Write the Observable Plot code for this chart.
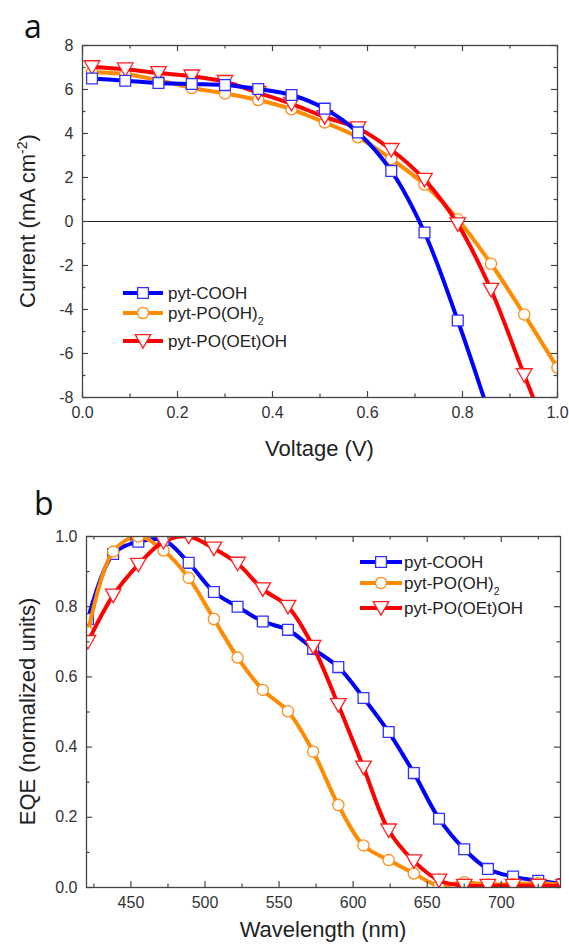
<!DOCTYPE html>
<html>
<head>
<meta charset="utf-8">
<script src="https://cdn.jsdelivr.net/npm/d3@7"></script>
<script src="https://cdn.jsdelivr.net/npm/@observablehq/plot@0.6"></script>
<style>
  body { margin: 0; background: #fff; }
  #chart { width: 569px; }
  #chart svg { display: block; }
</style>
</head>
<body>
<div id="chart"></div>
<script>
// ---------- Panel a: J–V curves ----------
const voltage = [0.02, 0.09, 0.16, 0.23, 0.30, 0.37, 0.44, 0.51, 0.58, 0.65, 0.72, 0.79, 0.86, 0.93, 1.00];
const currentCOOH = [6.50, 6.40, 6.30, 6.25, 6.20, 6.02, 5.75, 5.13, 4.05, 2.30, -0.50, -4.50, -9.00];
const currentPO = [6.80, 6.70, 6.42, 6.07, 5.82, 5.52, 5.10, 4.50, 3.83, 2.84, 1.68, 0.10, -1.92, -4.23, -6.65];
const currentOEt = [7.02, 6.92, 6.75, 6.60, 6.35, 5.85, 5.35, 4.75, 4.24, 3.26, 1.90, -0.12, -3.10, -6.98, -10.8];

// ---------- Panel b: EQE spectra ----------
const wavelength = [421, 438, 455, 472, 489, 506, 522, 539, 556, 573, 590, 607, 624, 641, 658, 675, 691, 708, 725, 742];
const eqeCOOH = [0.765, 0.950, 0.985, 0.990, 0.925, 0.842, 0.800, 0.758, 0.734, 0.680, 0.628, 0.540, 0.443, 0.326, 0.196, 0.109, 0.053, 0.031, 0.019, 0.010];
const eqePO = [0.727, 0.957, 1.000, 0.960, 0.882, 0.765, 0.655, 0.563, 0.502, 0.387, 0.235, 0.120, 0.078, 0.040, 0.005, 0.015, 0.008, 0.010, 0.012, 0.008];
const eqeOEt = [0.700, 0.832, 0.920, 0.985, 1.000, 0.966, 0.923, 0.850, 0.800, 0.686, 0.520, 0.342, 0.163, 0.075, 0.020, 0.005, 0.005, 0.005, 0.005, 0.005];

// ---------- Series names & ticks ----------
const seriesNames = ["pyt-COOH", "pyt-PO(OH)", "pyt-PO(OEt)OH"];
const seriesSubs = ["", "2", ""];
const xTicksA = [0, 0.2, 0.4, 0.6, 0.8, 1.0];
const xMinorA = [0.1, 0.3, 0.5, 0.7, 0.9];
const yTicksA = [-8, -6, -4, -2, 0, 2, 4, 6, 8];
const yMinorA = [-7, -5, -3, -1, 1, 3, 5, 7];
const xTicksB = [450, 500, 550, 600, 650, 700];
const xMinorB = [425, 475, 525, 575, 625, 675, 725];
const yTicksB = [0, 0.2, 0.4, 0.6, 0.8, 1.0];
const yMinorB = [0.1, 0.3, 0.5, 0.7, 0.9];

const FONT = "Arial, 'Liberation Sans', sans-serif";
const COLORS = ["#0000ff", "#ff8c00", "#ff0000"];
const MARKER_STROKE = ["#3030ff", "#ff8c1a", "#ff2020"];

const triangleDown = {
  draw(ctx, size) {
    const s = Math.sqrt(size / Math.PI);
    ctx.moveTo(-1.3 * s, -1.05 * s);
    ctx.lineTo(1.3 * s, -1.05 * s);
    ctx.lineTo(0, 1.2 * s);
    ctx.closePath();
  }
};
const SYMBOLS = [d3.symbolSquare, d3.symbolCircle, triangleDown];
const RADII = [6.1, 5.6, 6.0];

function toRows(xs, ys) {
  return ys.map((y, i) => ({x: xs[i], y}));
}

function seriesMarks(rows, k) {
  return [
    Plot.line(rows, {x: "x", y: "y", stroke: COLORS[k], strokeWidth: 4, curve: "catmull-rom", clip: true}),
    Plot.dot(rows, {x: "x", y: "y", symbol: SYMBOLS[k], r: RADII[k], fill: "white", stroke: MARKER_STROKE[k], strokeWidth: 1.3, clip: true})
  ];
}

function inwardTicks(xMajor, xMinor, yMajor, yMinor, innerW, innerH) {
  const st = {stroke: "#444", strokeWidth: 1.2};
  const maj = 6, min = 3.5;
  return [
    Plot.tickX(xMajor, {x: d => d, insetTop: innerH - maj, ...st}),
    Plot.tickX(xMinor, {x: d => d, insetTop: innerH - min, ...st}),
    Plot.tickX(xMajor, {x: d => d, insetBottom: innerH - maj, ...st}),
    Plot.tickX(xMinor, {x: d => d, insetBottom: innerH - min, ...st}),
    Plot.tickY(yMajor, {y: d => d, insetRight: innerW - maj, ...st}),
    Plot.tickY(yMinor, {y: d => d, insetRight: innerW - min, ...st}),
    Plot.tickY(yMajor, {y: d => d, insetLeft: innerW - maj, ...st}),
    Plot.tickY(yMinor, {y: d => d, insetLeft: innerW - min, ...st})
  ];
}

// Legend drawn inside the frame (offsets in px relative to frame top-left)
function legendMark({x, dys, len, gap, fontSize}) {
  return (index, scales, values, dims) => {
    const g = d3.create("svg:g").attr("font-family", FONT).attr("font-size", fontSize).attr("text-anchor", "start");
    seriesNames.forEach((name, k) => {
      const cy = dims.marginTop + dys[k];
      const x0 = dims.marginLeft + x;
      g.append("line").attr("x1", x0).attr("x2", x0 + len).attr("y1", cy).attr("y2", cy)
        .attr("stroke", COLORS[k]).attr("stroke-width", 4);
      g.append("path").attr("d", d3.symbol(SYMBOLS[k], Math.PI * RADII[k] * RADII[k])())
        .attr("transform", `translate(${x0 + len / 2},${cy})`)
        .attr("fill", "white").attr("stroke", MARKER_STROKE[k]).attr("stroke-width", 1.3);
      const t = g.append("text").attr("x", x0 + len + gap).attr("y", cy).attr("dy", "0.36em")
        .attr("text-anchor", "start").attr("fill", "#222");
      t.append("tspan").text(name);
      if (seriesSubs[k]) t.append("tspan").attr("font-size", fontSize * 0.62).attr("dy", 6).text(seriesSubs[k]);
    });
    return g.node();
  };
}

// Panel letter and axis titles (absolute px in the svg)
function titlesMark({letter, letterX, letterY, xTitle, xTitleY, yParts, yTitleX}) {
  return (index, scales, values, dims) => {
    const g = d3.create("svg:g").attr("font-family", FONT).attr("fill", "#222");
    const cx = dims.marginLeft + (dims.width - dims.marginLeft - dims.marginRight) / 2;
    const cy = dims.marginTop + (dims.height - dims.marginTop - dims.marginBottom) / 2;
    g.append("text").attr("x", letterX).attr("y", letterY).attr("text-anchor", "start")
      .attr("font-family", "'Open Sans', 'Noto Sans', sans-serif").attr("font-size", 32).attr("fill", "#111").text(letter);
    g.append("text").attr("x", cx).attr("y", xTitleY).attr("text-anchor", "middle").attr("font-size", 22).text(xTitle);
    const t = g.append("text").attr("transform", `translate(${yTitleX},${cy}) rotate(-90)`)
      .attr("text-anchor", "middle").attr("font-size", 22);
    yParts.forEach(p => {
      const s = t.append("tspan").text(p.text);
      if (p.sup) s.attr("font-size", 14).attr("dy", -8);
      if (p.after) s.attr("dy", 8);
    });
    return g.node();
  };
}

const styleBase = {fontFamily: FONT, fontSize: "16px", color: "#333", background: "white", overflow: "visible"};

// ---------- Panel a ----------
const WA = 569, HA = 470, mA = {top: 45, right: 12, bottom: 73, left: 82};
const plotA = Plot.plot({
  width: WA, height: HA,
  marginTop: mA.top, marginRight: mA.right, marginBottom: mA.bottom, marginLeft: mA.left,
  style: styleBase,
  x: {domain: [0, 1]},
  y: {domain: [-8, 8]},
  marks: [
    Plot.ruleY([0], {stroke: "#222", strokeWidth: 1}),
    ...seriesMarks(toRows(voltage, currentPO), 1),
    ...seriesMarks(toRows(voltage, currentOEt), 2),
    ...seriesMarks(toRows(voltage, currentCOOH), 0),
    Plot.frame({stroke: "#444", strokeWidth: 1.3}),
    ...inwardTicks(xTicksA, xMinorA, yTicksA, yMinorA, WA - mA.left - mA.right, HA - mA.top - mA.bottom),
    Plot.axisX(xTicksA, {tickSize: 0, tickPadding: 9, tickFormat: d => d.toFixed(1), label: null}),
    Plot.axisY(yTicksA, {tickSize: 0, tickPadding: 9, tickFormat: d => String(d), label: null}),
    legendMark({x: 41, dys: [248, 268, 296], len: 40, gap: 5, fontSize: 17}),
    titlesMark({letter: "a", letterX: 24, letterY: 38, xTitle: "Voltage (V)", xTitleY: 456,
      yParts: [{text: "Current (mA cm"}, {text: "-2", sup: true}, {text: ")", after: true}], yTitleX: 35})
  ]
});

// ---------- Panel b ----------
const WB = 569, HB = 476, mB = {top: 66, right: 9, bottom: 59, left: 86};
const plotB = Plot.plot({
  width: WB, height: HB,
  marginTop: mB.top, marginRight: mB.right, marginBottom: mB.bottom, marginLeft: mB.left,
  style: styleBase,
  x: {domain: [420, 740]},
  y: {domain: [0, 1]},
  marks: [
    ...seriesMarks(toRows(wavelength, eqeCOOH), 0),
    ...seriesMarks(toRows(wavelength, eqePO), 1),
    ...seriesMarks(toRows(wavelength, eqeOEt), 2),
    Plot.frame({stroke: "#444", strokeWidth: 1.3}),
    ...inwardTicks(xTicksB, xMinorB, yTicksB, yMinorB, WB - mB.left - mB.right, HB - mB.top - mB.bottom),
    Plot.axisX(xTicksB, {tickSize: 0, tickPadding: 9, tickFormat: d => String(d), label: null}),
    Plot.axisY(yTicksB, {tickSize: 0, tickPadding: 9, tickFormat: d => d.toFixed(1), label: null}),
    legendMark({x: 274, dys: [26, 47, 72], len: 42, gap: 2, fontSize: 17}),
    titlesMark({letter: "b", letterX: 34, letterY: 45, xTitle: "Wavelength (nm)", xTitleY: 467,
      yParts: [{text: "EQE (normalized units)"}], yTitleX: 35})
  ]
});

const chart = document.getElementById("chart");
chart.appendChild(plotA);
chart.appendChild(plotB);
</script>
</body>
</html>
